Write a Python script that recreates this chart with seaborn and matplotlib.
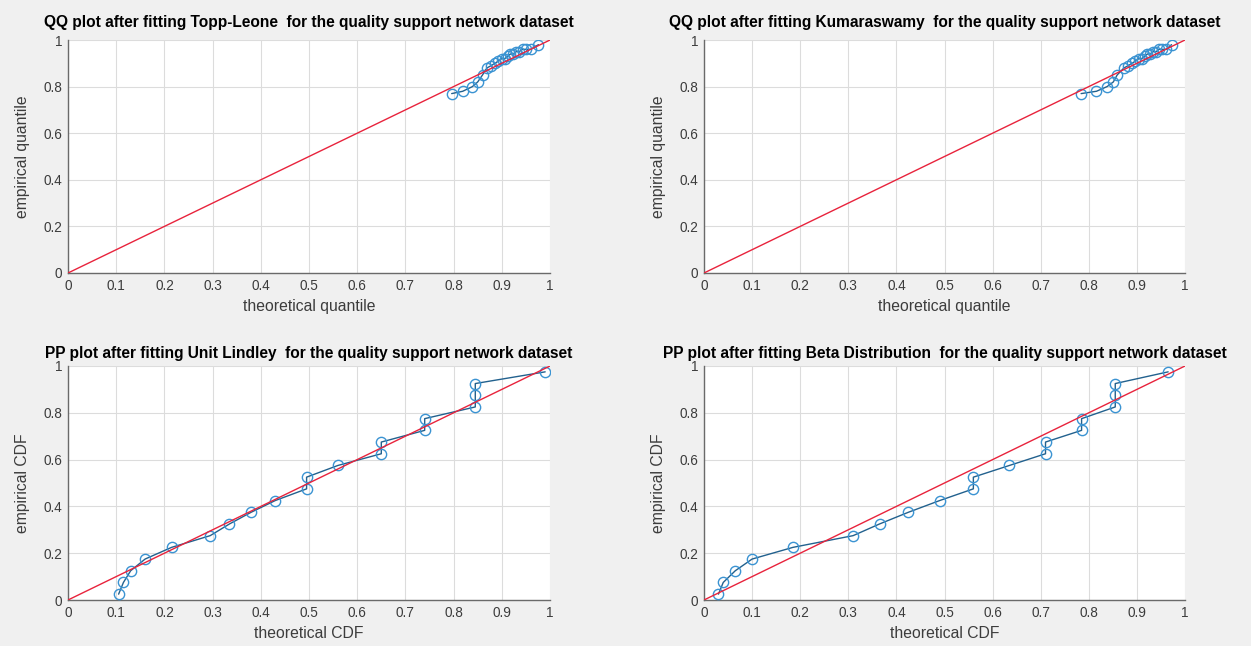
import numpy as np
import pandas as pd
import matplotlib
matplotlib.use("Agg")
import matplotlib.pyplot as plt
import seaborn as sns

# ---- data ----
empirical_q = [0.77, 0.78, 0.80, 0.82, 0.85, 0.88, 0.89, 0.90, 0.91, 0.92,
               0.92, 0.93, 0.94, 0.94, 0.95, 0.95, 0.96, 0.96, 0.96, 0.98]
toppleone_theo_q = [0.796, 0.819, 0.839, 0.850, 0.860, 0.869, 0.878, 0.886, 0.893, 0.900,
                    0.906, 0.912, 0.918, 0.924, 0.930, 0.936, 0.943, 0.951, 0.960, 0.976]
kumaraswamy_theo_q = [0.784, 0.816, 0.838, 0.851, 0.859, 0.873, 0.882, 0.890, 0.897, 0.904,
                      0.910, 0.916, 0.922, 0.928, 0.934, 0.940, 0.946, 0.953, 0.961, 0.972]
empirical_cdf = [0.025, 0.075, 0.125, 0.175, 0.225, 0.275, 0.325, 0.375, 0.425, 0.475,
                 0.525, 0.575, 0.625, 0.675, 0.725, 0.775, 0.825, 0.875, 0.925, 0.975]
unitlindley_theo_cdf = [0.105, 0.115, 0.13, 0.16, 0.215, 0.295, 0.335, 0.38, 0.43, 0.495,
                        0.495, 0.56, 0.65, 0.65, 0.74, 0.74, 0.845, 0.845, 0.845, 0.99]
beta_theo_cdf = [0.03, 0.04, 0.065, 0.10, 0.185, 0.31, 0.365, 0.425, 0.49, 0.56,
                 0.56, 0.635, 0.71, 0.71, 0.785, 0.785, 0.855, 0.855, 0.855, 0.965]
ref_line = [0.0, 1.0]

titles = [
    "QQ plot after fitting Topp-Leone  for the quality support network dataset",
    "QQ plot after fitting Kumaraswamy  for the quality support network dataset",
    "PP plot after fitting Unit Lindley  for the quality support network dataset",
    "PP plot after fitting Beta Distribution  for the quality support network dataset",
]
xlabels = ["theoretical quantile", "theoretical quantile", "theoretical CDF", "theoretical CDF"]
ylabels = ["empirical quantile", "empirical quantile", "empirical CDF", "empirical CDF"]
ticks_x = [0, 0.1, 0.2, 0.3, 0.4, 0.5, 0.6, 0.7, 0.8, 0.9, 1]
ticks_x_labels = ["0", "0.1", "0.2", "0.3", "0.4", "0.5", "0.6", "0.7", "0.8", "0.9", "1"]
ticks_y = [0, 0.2, 0.4, 0.6, 0.8, 1]
ticks_y_labels = ["0", "0.2", "0.4", "0.6", "0.8", "1"]

panels = [
    (toppleone_theo_q, empirical_q),
    (kumaraswamy_theo_q, empirical_q),
    (unitlindley_theo_cdf, empirical_cdf),
    (beta_theo_cdf, empirical_cdf),
]

sns.set_style("white")
plt.rcParams['font.family'] = ['Liberation Sans', 'DejaVu Sans']

W, H = 1251, 646
fig = plt.figure(figsize=(W / 100, H / 100), dpi=100, facecolor="#f0f0f0")

# axes boxes in pixels: left, right, top, bottom
boxes = [(68, 550, 40, 273), (704, 1185, 40, 273),
         (68, 550, 366, 600), (704, 1185, 366, 600)]
title_pads = [9, 9, 6, 6]

txt = "#3c3c3c"
for i, ((xv, yv), (l, r, t, b)) in enumerate(zip(panels, boxes)):
    ax = fig.add_axes([l / W, 1 - b / H, (r - l) / W, (b - t) / H])
    ax.set_facecolor("white")
    df = pd.DataFrame({"x": xv, "y": yv})
    sns.lineplot(data=df, x="x", y="y", sort=False, estimator=None, ax=ax,
                 color="#22618e", linewidth=1.0, marker="o", markersize=7.4,
                 markerfacecolor="none", markeredgecolor="#3a93d2",
                 markeredgewidth=1.0, zorder=3)
    ref = pd.DataFrame({"x": ref_line, "y": ref_line})
    sns.lineplot(data=ref, x="x", y="y", ax=ax, color="#e8233c", linewidth=1.0,
                 zorder=4)
    ax.set_xlim(0, 1)
    ax.set_ylim(0, 1)
    ax.set_xticks(ticks_x)
    ax.set_xticklabels(ticks_x_labels)
    ax.set_yticks(ticks_y)
    ax.set_yticklabels(ticks_y_labels)
    ax.grid(True, color="#dcdcdc", linewidth=0.8)
    ax.set_axisbelow(True)
    for s in ["top", "right"]:
        ax.spines[s].set_visible(False)
    for s in ["left", "bottom"]:
        ax.spines[s].set_color("#6a6a6a")
        ax.spines[s].set_linewidth(1.0)
    ax.tick_params(direction="in", length=4, width=0.8, color="#6a6a6a",
                   labelsize=9.8, labelcolor=txt, pad=4)
    ax.set_xlabel(xlabels[i], fontsize=11.3, color=txt, labelpad=5)
    ax.set_ylabel(ylabels[i], fontsize=11.3, color=txt, labelpad=10)
    ax.set_title(titles[i], fontsize=11.2, fontweight="bold", color="black",
                 pad=title_pads[i])

fig.savefig("out.png", dpi=100, facecolor=fig.get_facecolor())
